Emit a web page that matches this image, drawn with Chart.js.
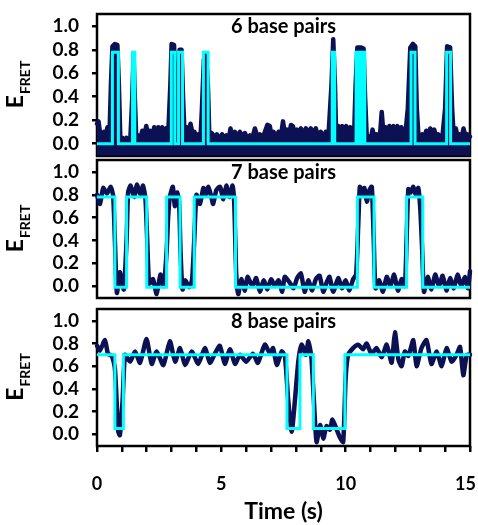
<!DOCTYPE html>
<html><head><meta charset="utf-8">
<script src="https://cdn.jsdelivr.net/npm/chart.js@4"></script>
<style>
html,body{margin:0;padding:0;background:#fff;}
body{width:478px;height:525px;position:relative;overflow:hidden;}
.p{position:absolute;left:0;width:478px;}
</style></head><body>
<div class="p" style="top:0;height:160px"><canvas id="c1"></canvas></div>
<div class="p" style="top:156px;height:146px"><canvas id="c2"></canvas></div>
<div class="p" style="top:302px;height:223px"><canvas id="c3"></canvas></div>
<script>
// ---- data ----
const panelTitles = ['6 base pairs', '7 base pairs', '8 base pairs'];
const yTickValues = [0.0, 0.2, 0.4, 0.6, 0.8, 1.0];
const xTickLabels = [0, 5, 10, 15];

// 6 bp: trace
const times6 = [0,0.06,0.12,0.2,0.28,0.36,0.42,0.5,0.56,0.62,
  0.72,0.82,0.88,0.94,1.02,1.1,1.18,1.26,1.34,1.42,
  1.47,1.52,1.58,1.66,1.74,1.82,1.9,1.98,2.06,2.14,
  2.22,2.3,2.38,2.46,2.54,2.62,2.7,2.78,2.86,2.95,
  3.0,3.1,3.15,3.2,3.26,3.32,3.4,3.46,3.52,3.6,
  3.68,3.76,3.84,3.92,4.0,4.08,4.16,4.22,4.3,4.38,
  4.46,4.52,4.62,4.72,4.82,4.92,5.03,5.1,5.2,5.3,
  5.37,5.45,5.55,5.65,5.75,5.85,5.95,6.05,6.15,6.25,
  6.35,6.45,6.55,6.65,6.75,6.85,6.95,7.03,7.1,7.2,
  7.3,7.4,7.48,7.56,7.64,7.72,7.8,7.88,7.96,8.04,
  8.12,8.2,8.3,8.4,8.5,8.6,8.7,8.8,8.9,9.0,
  9.1,9.2,9.3,9.43,9.5,9.57,9.62,9.7,9.78,9.86,
  9.94,10.02,10.1,10.18,10.26,10.34,10.4,10.47,10.6,10.72,
  10.78,10.85,10.93,11.0,11.08,11.16,11.24,11.32,11.38,11.45,
  11.52,11.6,11.68,11.76,11.84,11.92,12.0,12.08,12.16,12.24,
  12.32,12.4,12.5,12.6,12.7,12.8,12.86,12.92,13.0,13.08,
  13.16,13.24,13.32,13.4,13.48,13.56,13.64,13.72,13.8,13.9,
  14.0,14.08,14.2,14.28,14.35,14.43,14.5,14.58,14.66,14.74,
  14.82,14.9,15.0];
const efret6 = [0.17,0.19,0.1,0.07,0.1,0.08,0.14,0.06,0.5,0.83,
  0.85,0.84,0.5,0.03,0.05,0.02,0.05,0.02,0.04,0.4,
  0.76,0.4,0.04,0.07,0.04,0.11,0.06,0.15,0.07,0.11,
  0.05,0.14,0.08,0.14,0.06,0.14,0.09,0.13,0.06,0.5,
  0.85,0.84,0.4,0.03,0.5,0.8,0.8,0.4,0.08,0.14,
  0.07,0.17,0.09,0.1,0.05,0.08,0.04,0.3,0.72,0.77,
  0.5,0.05,0.09,0.05,0.08,0.04,0.08,0.05,0.07,0.04,
  0.13,0.06,0.1,0.05,0.1,0.06,0.09,0.04,0.07,0.05,
  0.13,0.06,0.08,0.04,0.1,0.16,0.15,0.06,0.1,0.05,
  0.1,0.07,0.19,0.07,0.12,0.06,0.16,0.15,0.06,0.12,
  0.07,0.13,0.08,0.13,0.09,0.13,0.08,0.13,0.05,0.1,
  0.05,0.1,0.04,0.5,0.89,0.5,0.05,0.15,0.08,0.15,
  0.09,0.15,0.07,0.14,0.07,0.08,0.5,0.82,0.82,0.81,
  0.4,0.05,0.06,0.03,0.12,0.05,0.08,0.04,0.07,0.27,
  0.08,0.14,0.07,0.15,0.09,0.15,0.08,0.15,0.07,0.14,
  0.06,0.08,0.3,0.82,0.85,0.83,0.3,0.09,0.05,0.08,
  0.04,0.11,0.06,0.13,0.07,0.12,0.06,0.08,0.04,0.08,
  0.3,0.83,0.82,0.3,0.05,0.13,0.06,0.08,0.04,0.13,
  0.06,0.08,0.06];
const fitTimes6 = [0,0.62,0.86,1.43,1.52,2.99,3.13,3.28,3.44,4.28,4.47,9.46,9.56,10.42,10.54,10.58,10.66,10.69,10.77,12.63,12.79,14.06,14.22,15];
const fitLevels6 = [0,0.78,0,0.78,0,0.78,0,0.78,0,0.78,0,0.78,0,0.78,0,0.78,0,0.78,0,0.78,0,0.78,0,0];

// 7 bp
const times7 = [0,0.12,0.25,0.4,0.55,0.65,0.72,0.8,0.92,1.0,
  1.08,1.19,1.25,1.35,1.5,1.6,1.75,1.85,1.95,2.02,
  2.1,2.25,2.4,2.55,2.68,2.8,2.86,2.93,3.05,3.13,
  3.22,3.3,3.36,3.44,3.55,3.7,3.82,3.91,4.0,4.14,
  4.28,4.38,4.48,4.6,4.67,4.8,4.95,5.08,5.2,5.33,
  5.45,5.52,5.6,5.68,5.8,5.95,6.05,6.25,6.4,6.55,
  6.7,6.85,7.0,7.15,7.3,7.45,7.55,7.75,7.9,8.05,
  8.2,8.35,8.5,8.65,8.8,8.95,9.1,9.25,9.35,9.5,
  9.7,9.85,10.0,10.15,10.3,10.42,10.5,10.57,10.65,10.75,
  10.85,10.95,11.05,11.13,11.2,11.35,11.5,11.65,11.8,11.95,
  12.1,12.25,12.38,12.45,12.52,12.62,12.72,12.82,12.92,13.0,
  13.08,13.15,13.3,13.45,13.6,13.75,13.9,14.05,14.2,14.35,
  14.5,14.65,14.8,14.92,15.0];
const efret7 = [0.8,0.72,0.86,0.81,0.87,0.79,0.4,-0.06,0.12,0.03,
  -0.03,0.4,0.82,0.88,0.78,0.89,0.8,0.88,0.76,0.4,
  0.02,0.06,-0.07,0.1,0.0,0.3,0.6,0.78,0.87,0.7,
  0.82,0.74,0.3,-0.03,0.05,-0.01,0.05,0.4,0.8,0.72,
  0.86,0.8,0.87,0.78,0.72,0.84,0.87,0.76,0.88,0.78,
  0.88,0.72,0.1,-0.07,0.06,-0.04,0.08,0.0,0.07,-0.05,
  0.05,-0.03,0.06,0.0,0.05,-0.05,0.08,0.03,-0.02,0.07,
  0.11,-0.05,0.05,-0.04,0.06,0.09,-0.05,0.04,0.08,-0.05,
  0.07,-0.02,0.05,-0.04,0.06,0.1,0.5,0.87,0.8,0.86,
  0.74,0.84,0.87,0.4,-0.02,0.05,-0.05,0.08,0.0,0.1,
  -0.04,0.06,0.0,0.4,0.85,0.82,0.87,0.8,0.86,0.68,
  0.3,-0.05,0.08,-0.03,0.1,0.0,0.09,-0.04,0.07,-0.02,
  0.1,0.0,0.08,-0.02,0.13];
const fitTimes7 = [0,0.72,1.19,2.0,2.8,3.34,3.91,5.57,10.47,11.14,12.45,13.1,15];
const fitLevels7 = [0.78,-0.01,0.78,-0.01,0.78,-0.01,0.78,-0.01,0.78,-0.01,0.78,-0.01,-0.01];

// 8 bp
const times8 = [0,0.12,0.32,0.44,0.6,0.72,0.85,0.92,1.03,1.13,
  1.33,1.53,1.73,1.99,2.2,2.4,2.67,2.93,3.14,3.34,
  3.54,3.81,4.07,4.34,4.54,4.74,4.94,5.14,5.35,5.55,
  5.75,6.0,6.27,6.47,6.75,6.96,7.08,7.23,7.43,7.56,
  7.69,7.83,7.96,8.1,8.23,8.4,8.5,8.62,8.72,8.83,
  8.97,9.1,9.23,9.37,9.47,9.64,9.77,9.9,10.0,10.1,
  10.3,10.5,10.7,10.84,11.04,11.24,11.45,11.65,11.85,11.98,
  12.12,12.25,12.38,12.52,12.72,12.85,13.05,13.25,13.45,13.66,
  13.86,14.06,14.26,14.46,14.6,14.73,14.87,15.0];
const efret8 = [0.78,0.74,0.83,0.71,0.69,0.58,0.03,-0.01,0.3,0.7,
  0.64,0.73,0.63,0.84,0.62,0.73,0.61,0.82,0.64,0.76,
  0.61,0.73,0.62,0.76,0.63,0.71,0.78,0.62,0.75,0.62,
  0.7,0.64,0.71,0.63,0.79,0.71,0.76,0.61,0.73,0.68,
  0.3,0.02,0.3,0.65,0.79,0.7,0.82,0.68,0.3,-0.07,
  0.08,-0.04,0.07,0.04,0.13,0.04,-0.03,-0.07,0.5,0.7,
  0.76,0.79,0.75,0.8,0.71,0.76,0.68,0.79,0.63,0.9,
  0.66,0.6,0.73,0.69,0.83,0.6,0.76,0.83,0.62,0.73,
  0.6,0.76,0.64,0.7,0.77,0.52,0.7,0.7];
const fitTimes8 = [0,0.72,1.06,7.64,8.16,8.7,9.97,15];
const fitLevels8 = [0.7,0.05,0.7,0.05,0.7,0.05,0.7,0.7];

// ---- drawing ----
const NAVY = '#0b1152';
const CYAN = '#00ffff';
const FONT = 'Lato';
const pts = (xs, ys) => xs.map((x, i) => ({x: x, y: ys[i]}));

const decorPlugin = {
  id: 'decor',
  beforeDatasetsDraw(chart) {
    const a = chart.chartArea, ctx = chart.ctx;
    ctx.save();
    ctx.strokeStyle = '#000';
    ctx.lineWidth = 2.5;
    ctx.strokeRect(a.left, a.top, a.right - a.left, a.bottom - a.top);
    ctx.restore();
  },
  afterDatasetsDraw(chart, args, opts) {
    const a = chart.chartArea, ctx = chart.ctx;
    ctx.save();
    ctx.fillStyle = '#000';
    ctx.textAlign = 'center';
    ctx.textBaseline = 'middle';
    ctx.font = 'bold 20px ' + FONT;
    ctx.fillText(opts.title, (a.left + a.right) / 2, a.top + 13);
    // y title E_FRET
    const cy = (a.top + a.bottom) / 2;
    ctx.translate(23, cy);
    ctx.rotate(-Math.PI / 2);
    ctx.textAlign = 'left';
    ctx.textBaseline = 'alphabetic';
    ctx.font = 'bold 23px ' + FONT;
    const wE = ctx.measureText('E').width;
    ctx.font = 'bold 14px ' + FONT;
    const wS = ctx.measureText('FRET').width;
    const x0 = -(wE + wS) / 2;
    ctx.font = 'bold 23px ' + FONT;
    ctx.fillText('E', x0, 0);
    ctx.font = 'bold 14px ' + FONT;
    ctx.fillText('FRET', x0 + wE + 1, 7);
    ctx.restore();
  }
};

function makePanel(id, title, tx, ty, fx, fy, opt) {
  const xScale = {
    type: 'linear', min: 0, max: 15, display: !!opt.xAxis
  };
  if (opt.xAxis) {
    Object.assign(xScale, {
      afterFit(s) { s.height = opt.xHeight; s.paddingLeft = 0; s.paddingRight = 0; },
      ticks: { stepSize: 1, autoSkip: false, maxRotation: 0, color: '#000', padding: 21,
        font: { family: FONT, weight: 'bold', size: 18 },
        callback: v => xTickLabels.includes(v) ? (v === 15 ? '15\u2002' : String(v)) : '' },
      grid: { drawOnChartArea: false, drawTicks: true, tickLength: 6, color: '#000', lineWidth: 2.5 },
      border: { display: false },
      title: { display: true, text: 'Time (s)', color: '#000', padding: { top: 0, bottom: 0 },
        font: { family: FONT, weight: 'bold', size: 23 } }
    });
  }
  return new Chart(document.getElementById(id), {
    type: 'line',
    data: {
      datasets: [
        { data: pts(fx, fy), borderColor: CYAN, borderWidth: 3, stepped: 'before',
          pointRadius: 0, fill: false, clip: 6 },
        { data: pts(tx, ty), borderColor: NAVY, backgroundColor: NAVY, borderWidth: 4.5,
          pointRadius: 0, tension: opt.tension, fill: opt.fill, clip: 6,
          borderJoinStyle: 'round', borderCapStyle: 'round' }
      ]
    },
    options: {
      responsive: true, maintainAspectRatio: false, animation: false,
      layout: { padding: { left: 0, right: 8, top: opt.padTop, bottom: opt.padBottom } },
      plugins: { legend: { display: false }, tooltip: { enabled: false }, decor: { title: title } },
      scales: {
        x: xScale,
        y: {
          min: -0.105, max: 1.105,
          afterFit(s) { s.width = 97; s.paddingTop = 0; s.paddingBottom = 0; },
          afterBuildTicks(s) { s.ticks = yTickValues.map(v => ({ value: v })); },
          ticks: { color: '#000', padding: 13, autoSkip: false,
            font: { family: FONT, weight: 'bold', size: 19 },
            callback: v => Number(v).toFixed(1) },
          grid: { drawOnChartArea: false, drawTicks: true, tickLength: 5, color: '#000', lineWidth: 2.5 },
          border: { display: false }
        }
      }
    },
    plugins: [decorPlugin]
  });
}

makePanel('c1', panelTitles[0], times6, efret6, fitTimes6, fitLevels6,
  { padTop: 14, padBottom: 4, tension: 0, fill: { value: -0.1 } });
makePanel('c2', panelTitles[1], times7, efret7, fitTimes7, fitLevels7,
  { padTop: 4, padBottom: 4, tension: 0.2, fill: false });
makePanel('c3', panelTitles[2], times8, efret8, fitTimes8, fitLevels8,
  { padTop: 7, padBottom: 0, tension: 0.2, fill: false, xAxis: true, xHeight: 79 });
</script>
</body></html>
